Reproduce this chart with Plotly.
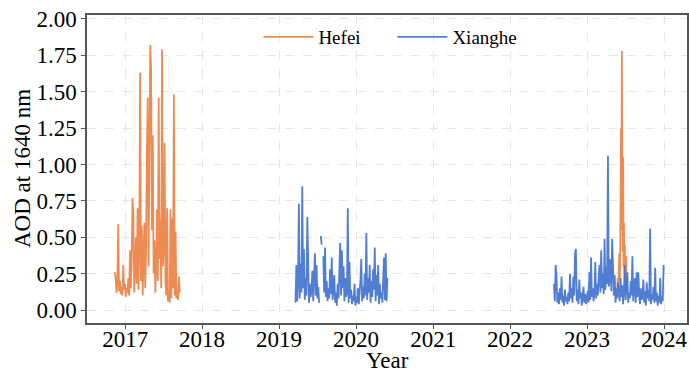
import pandas as pd
import plotly.graph_objects as go

# ---------------- data ----------------
hefei_2017_start = "2016-11-13"
hefei_2017_step = "4D"
hefei_2017 = [0.26, 0.22, 0.12, 0.18, 0.59, 0.13, 0.20, 0.11, 0.16, 0.10,
              0.31, 0.14, 0.18, 0.09, 0.15, 0.12, 0.22, 0.10, 0.41, 0.15,
              0.35, 0.77, 0.64, 0.12, 0.28, 0.50, 0.18, 0.70, 0.14, 0.45,
              1.63, 0.20, 0.58, 0.10, 0.35, 0.60, 0.15, 0.40, 1.05, 1.46,
              0.30, 0.95, 1.82, 1.65, 0.55, 1.20, 0.25, 0.48, 0.12, 0.30,
              0.69, 0.20, 1.46, 0.35, 0.62, 0.15, 1.79, 0.30, 0.45, 1.15,
              0.20, 0.10, 0.70, 0.06, 0.12, 0.05, 0.69, 0.08, 0.63, 0.15,
              1.48, 0.10, 0.54, 0.08, 0.14, 0.07, 0.23, 0.12]

hefei_2023_start = "2023-05-24"
hefei_2023_step = "2D"
hefei_2023 = [0.15, 0.22, 0.12, 0.28, 0.18, 0.39, 0.20, 0.35, 0.80, 1.25,
              0.55, 1.78, 0.90, 0.40, 1.05, 0.30, 0.60, 0.25, 0.45, 0.14,
              0.28, 0.37, 0.12, 0.20]

xianghe_2019_start = "2019-03-20"
xianghe_2019_step = "4D"
xianghe_2019 = [0.05, 0.31, 0.06, 0.20, 0.73, 0.08, 0.32, 0.12, 0.85, 0.15,
                0.42, 0.07, 0.22, 0.10, 0.64, 0.12, 0.05, 0.18, 0.09, 0.14,
                0.27, 0.06, 0.21, 0.39, 0.10, 0.31, 0.08, 0.16, 0.05, None,
                0.51, 0.45, None, 0.37, 0.12, 0.43, 0.09, 0.20, 0.06, 0.15,
                0.08, 0.28, 0.11, 0.36, 0.07, 0.14, 0.24, 0.05, 0.12, 0.03,
                0.18, 0.08, 0.25, 0.46, 0.10, 0.41, 0.15, 0.30, 0.06, 0.22,
                0.09, 0.12, 0.70, 0.05, 0.33, 0.08, 0.14, 0.04, 0.10, 0.06,
                0.18, 0.03, 0.09, 0.05, 0.15, 0.04, 0.12, 0.20, 0.35, 0.06,
                0.16, 0.08, 0.25, 0.10, 0.53, 0.07, 0.22, 0.12, 0.31, 0.05,
                0.20, 0.09, 0.28, 0.14, 0.43, 0.06, 0.24, 0.10, 0.31, 0.04,
                0.18, 0.08, 0.12, 0.05, 0.22, 0.36, 0.07, 0.39, 0.06, 0.22]

xianghe_2022_start = "2022-07-28"
xianghe_2022_step = "4D"
xianghe_2022 = [0.18, 0.06, 0.31, 0.24, 0.05, 0.12, 0.04, 0.15, 0.07, 0.23,
                0.05, 0.10, 0.03, 0.14, 0.06, 0.09, 0.04, 0.12, 0.06, 0.25,
                0.08, 0.15, 0.05, 0.23, 0.10, 0.39, 0.42, 0.06, 0.14, 0.04,
                0.21, 0.08, 0.12, 0.03, 0.09, 0.16, 0.05, 0.11, 0.04, 0.08,
                0.13, 0.05, 0.26, 0.07, 0.36, 0.09, 0.15, 0.06, 0.12, 0.33,
                0.08, 0.18, 0.10, 0.22, 0.31, 0.12, 0.41, 0.15, 0.25, 0.11,
                0.49, 0.14, 0.30, 0.18, 1.06, 0.16, 0.22, 0.35, 0.13, 0.49,
                0.20, 0.10, 0.24, 0.05, 0.15, 0.08, 0.19, 0.12, 0.06, 0.22,
                0.09, 0.17, 0.04, 0.14, 0.31, 0.07, 0.18, 0.26, 0.05, 0.12,
                0.08, 0.20, 0.10, 0.37, 0.06, 0.14, 0.22, 0.05, 0.26, 0.09,
                0.26, 0.12, 0.04, 0.15, 0.07, 0.10, 0.21, 0.05, 0.13, 0.03,
                0.19, 0.08, 0.14, 0.06, 0.56, 0.04, 0.11, 0.07, 0.16, 0.05,
                0.29, 0.06, 0.12, 0.03, 0.10, 0.05, 0.22, 0.04, 0.09, 0.06,
                0.31]

year_ticks = ["2017", "2018", "2019", "2020", "2021", "2022", "2023", "2024"]
aod_ticks = [0.0, 0.25, 0.5, 0.75, 1.0, 1.25, 1.5, 1.75, 2.0]
x_range = ["2016-07-04", "2024-04-19"]
y_range = [-0.089, 2.027]
x_title = "Year"
y_title = "AOD at 1640 nm"

ORANGE = "#EE854A"
BLUE = "#4878D0"
FONT = "Liberation Serif, Times New Roman, serif"


def seg(start, step, vals):
    d = pd.date_range(start, periods=len(vals), freq=step)
    return [x.strftime("%Y-%m-%d") for x in d], list(vals)


def join(*segs):
    xs, ys = [], []
    for i, (x, y) in enumerate(segs):
        if i:
            xs.append(None)
            ys.append(None)
        xs += x
        ys += y
    return xs, ys


hx, hy = join(seg(hefei_2017_start, hefei_2017_step, hefei_2017),
              seg(hefei_2023_start, hefei_2023_step, hefei_2023))
xx, xy = join(seg(xianghe_2019_start, xianghe_2019_step, xianghe_2019),
              seg(xianghe_2022_start, xianghe_2022_step, xianghe_2022))

fig = go.Figure()
fig.add_trace(go.Scatter(x=hx, y=hy, mode="lines", name="Hefei",
                         line=dict(color=ORANGE, width=1.8), opacity=0.95))
fig.add_trace(go.Scatter(x=xx, y=xy, mode="lines", name="Xianghe",
                         line=dict(color=BLUE, width=1.8), opacity=0.95))

grid = dict(showgrid=True, gridcolor="#e6e6e6", griddash="dash", gridwidth=1)
fig.update_layout(
    width=689, height=374,
    margin=dict(l=87, r=2, t=15, b=51),
    paper_bgcolor="white", plot_bgcolor="white",
    font=dict(family=FONT, size=23, color="black"),
    showlegend=True,
    legend=dict(orientation="h", x=0.509, xanchor="center", y=0.99, yanchor="top",
                bgcolor="rgba(0,0,0,0)", font=dict(size=19),
                itemwidth=50, entrywidth=69, entrywidthmode="pixels"),
    xaxis=dict(range=x_range, tickmode="array",
               tickvals=[f"{y}-01-01" for y in year_ticks], ticktext=year_ticks,
               ticks="outside", ticklen=4, tickcolor="#555", automargin=False,
               ticklabelstandoff=-9,
               showline=True, linecolor="#555", linewidth=1.5, mirror=True,
               zeroline=False, **grid),
    yaxis=dict(range=y_range, tickmode="array", tickvals=aod_ticks,
               tickformat=".2f", automargin=False,
               ticks="outside", ticklen=4, tickcolor="#555",
               showline=True, linecolor="#555", linewidth=1.5, mirror=True,
               zeroline=False, **grid),
    annotations=[
        dict(text=x_title, xref="paper", yref="paper", x=0.5, y=0,
             yshift=-37, yanchor="middle", xanchor="center", showarrow=False,
             borderpad=0, font=dict(size=23)),
        dict(text=y_title, xref="paper", yref="paper", x=0, y=0.5,
             xshift=-65, xanchor="center", yanchor="middle", textangle=-90,
             showarrow=False, font=dict(size=23)),
    ],
)

fig.write_html("out.html")
